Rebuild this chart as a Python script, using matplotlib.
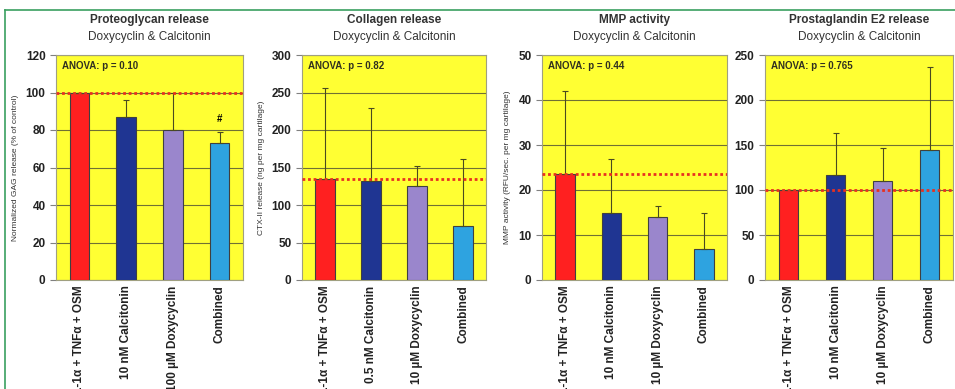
import matplotlib.pyplot as plt
from matplotlib.lines import Line2D

plt.rcParams['font.family'] = ['Liberation Sans', 'DejaVu Sans']

# data
titles = ["Proteoglycan release", "Collagen release", "MMP activity", "Prostaglandin E2 release"]
subtitle = "Doxycyclin & Calcitonin"
ylabels = ["Normalized GAG release (% of control)",
           "CTX-II release (ng per mg cartilage)",
           "MMP activity (RFU/sec. per mg cartilage)",
           ""]
anova = ["ANOVA: p = 0.10", "ANOVA: p = 0.82", "ANOVA: p = 0.44", "ANOVA: p = 0.765"]
labels1 = ["IL-1α + TNFα + OSM", "10 nM Calcitonin", "100 µM Doxycyclin", "Combined"]
labels2 = ["IL-1α + TNFα + OSM", "0.5 nM Calcitonin", "10 µM Doxycyclin", "Combined"]
labels3 = ["IL-1α + TNFα + OSM", "10 nM Calcitonin", "10 µM Doxycyclin", "Combined"]
labels4 = ["IL-1α + TNFα + OSM", "10 nM Calcitonin", "10 µM Doxycyclin", "Combined"]

gag = [100, 87, 80, 73]
gag_err = [0, 9, 20, 6]
ctx = [135, 132, 125, 72]
ctx_err = [121, 97, 27, 89]
mmp = [23.5, 15, 14, 7]
mmp_err = [18.5, 12, 2.5, 8]
pge = [100, 117, 110, 145]
pge_err = [0, 46, 37, 92]

ymax = [120, 300, 50, 250]
ystep = [20, 50, 10, 50]

colors = ["#ff2020", "#1f3592", "#9a86cc", "#2ea3e0"]

values = [gag, ctx, mmp, pge]
errors = [gag_err, ctx_err, mmp_err, pge_err]
xlabels = [labels1, labels2, labels3, labels4]

fig = plt.figure(figsize=(9.55, 3.89), dpi=100)
lefts = [56, 302, 542, 765]
widths = [187, 184, 185, 188]

for i in range(4):
    ax = fig.add_axes([lefts[i] / 955, 1 - 280 / 389, widths[i] / 955, 225 / 389])
    ax.set_facecolor("#ffff33")
    x = range(4)
    ax.bar(x, values[i], width=0.42, color=colors, edgecolor="#404040", linewidth=0.8, zorder=3)
    ax.errorbar(x, values[i], yerr=[[0] * 4, errors[i]], fmt="none", ecolor="#4a4a20",
                elinewidth=0.8, capsize=2.5, capthick=0.8, zorder=4)
    ax.axhline(values[i][0], color="#e83020", linestyle=(0, (1, 1)), linewidth=2, zorder=5)
    ax.set_xlim(-0.5, 3.5)
    ax.set_ylim(0, ymax[i])
    ax.set_yticks(range(0, ymax[i] + 1, ystep[i]))
    ax.grid(axis="y", color="#707034", linewidth=0.8, zorder=0)
    ax.set_xticks(list(x))
    ax.set_xticklabels(xlabels[i], rotation=90, fontsize=8.5, fontweight="bold", va="top", color="#222222")
    ax.tick_params(axis="x", length=0, pad=4)
    ax.tick_params(axis="y", labelsize=8.5, length=4, color="#808080", width=0.8, labelcolor="#222222")
    for t in ax.get_yticklabels():
        t.set_fontweight("bold")
    for s in ax.spines.values():
        s.set_color("#a0a080")
        s.set_linewidth(0.8)
    if ylabels[i]:
        ax.set_ylabel(ylabels[i], fontsize=6, labelpad=5, color="#333333")
    ax.text(0.03, 0.975, anova[i], transform=ax.transAxes, fontsize=7,
            fontweight="bold", va="top", ha="left", color="#303020")
    cx = (lefts[i] + widths[i] / 2) / 955
    fig.text(cx, 1 - 20 / 389, titles[i], ha="center", va="center", fontsize=8.5, fontweight="bold", color="#333333")
    fig.text(cx, 1 - 37 / 389, subtitle, ha="center", va="center", fontsize=8.5, color="#333333")
    if i == 0:
        ax.text(3, 83, "#", ha="center", va="bottom", fontsize=7, fontweight="bold")

# green frame lines
fig.add_artist(Line2D([5 / 955, 1], [1 - 10 / 389, 1 - 10 / 389], color="#3aa060", linewidth=1.2))
fig.add_artist(Line2D([5 / 955, 5 / 955], [0, 1 - 10 / 389], color="#3aa060", linewidth=1.2))

fig.savefig("out.png", dpi=100)
